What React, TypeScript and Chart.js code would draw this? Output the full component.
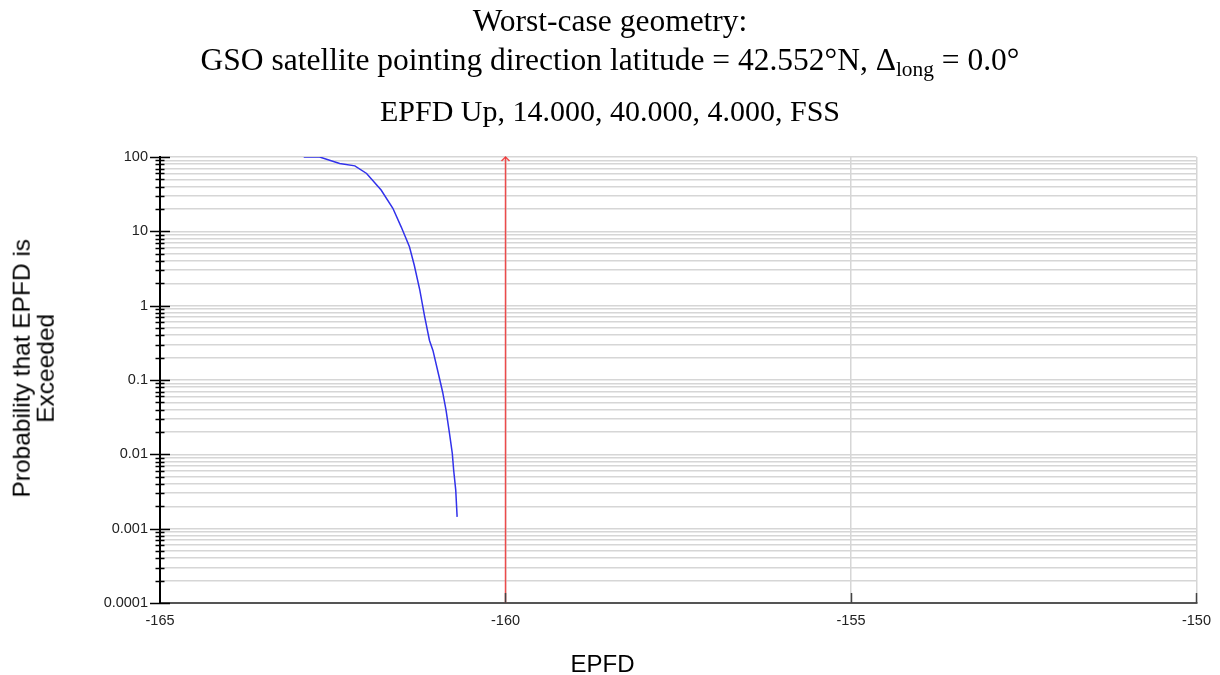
import React, { useEffect, useRef } from "react";
import { Chart, registerables } from "chart.js";

Chart.register(...registerables);

// ---- data ----
const epfdValues: number[] = [
  -162.92, -162.69, -162.4, -162.18, -162.01, -161.8, -161.63, -161.51, -161.39,
  -161.32, -161.24, -161.17, -161.1, -161.05, -160.95, -160.91, -160.86, -160.81,
  -160.77, -160.75, -160.72, -160.7,
];
const probValues: number[] = [
  100, 100, 82, 76, 60, 36, 20.4, 11.5, 6.2, 3.5, 1.62, 0.71, 0.34, 0.25, 0.1,
  0.069, 0.039, 0.019, 0.0103, 0.0061, 0.0033, 0.00144,
];
const limitEpfd: number[] = [-160, -160];
const limitProb: number[] = [0.0001, 100];
const xTickValues: number[] = [-165, -160, -155, -150];
const yDecades: number[] = [0.0001, 0.001, 0.01, 0.1, 1, 10, 100];
const yDecadeLabels: string[] = ["0.0001", "0.001", "0.01", "0.1", "1", "10", "100"];

const titleLine1 = "Worst-case geometry:";
const titleLine2a = "GSO satellite pointing direction latitude = 42.552°N, Δ";
const titleLine2sub = "long";
const titleLine2b = " = 0.0°";
const titleLine3 = "EPFD Up, 14.000, 40.000, 4.000, FSS";
const yTitleLines = ["Probability that EPFD is", "Exceeded"];
const xTitle = "EPFD";

const isDecade = (v: number) =>
  Math.abs(Math.log10(v) - Math.round(Math.log10(v))) < 1e-6;

const tickPlugin = {
  id: "customTicks",
  afterDraw(chart: any) {
    const { ctx, chartArea, scales } = chart;
    const y = scales.y;
    const x = scales.x;
    ctx.save();
    // y-axis ticks crossing the axis
    ctx.strokeStyle = "#000";
    ctx.lineWidth = 1.5;
    y.ticks.forEach((t: any) => {
      const py = Math.round(y.getPixelForValue(t.value)) + 0.5;
      const len = isDecade(t.value) ? 10 : 4.5;
      ctx.beginPath();
      ctx.moveTo(chartArea.left - len, py);
      ctx.lineTo(chartArea.left + len, py);
      ctx.stroke();
    });
    // x-axis ticks pointing up
    ctx.strokeStyle = "#444";
    ctx.lineWidth = 1.5;
    x.ticks.forEach((t: any) => {
      if (t.value <= x.min) return;
      const px = Math.round(x.getPixelForValue(t.value)) + 0.5;
      ctx.beginPath();
      ctx.moveTo(px, chartArea.bottom);
      ctx.lineTo(px, chartArea.bottom - 10);
      ctx.stroke();
    });
    // arrow head on limit line
    const ax = x.getPixelForValue(limitEpfd[1]);
    const ay = y.getPixelForValue(limitProb[1]);
    ctx.strokeStyle = "rgba(240,50,50,0.85)";
    ctx.lineWidth = 1.5;
    ctx.beginPath();
    ctx.moveTo(ax - 4, ay + 4);
    ctx.lineTo(ax, ay);
    ctx.lineTo(ax + 4, ay + 4);
    ctx.stroke();
    ctx.restore();
  },
};

function ChartCanvas() {
  const ref = useRef<HTMLCanvasElement | null>(null);
  useEffect(() => {
    if (!ref.current) return;
    const tickFont = { family: "'Liberation Sans', Arial, sans-serif", size: 14.5 };
    const chart = new Chart(ref.current, {
      type: "line",
      data: {
        datasets: [
          {
            data: epfdValues.map((v, i) => ({ x: v, y: probValues[i] })),
            borderColor: "rgb(50,50,235)",
            borderWidth: 1.5,
            pointRadius: 0,
            tension: 0,
            fill: false,
          },
          {
            data: limitEpfd.map((v, i) => ({ x: v, y: limitProb[i] })),
            borderColor: "rgba(240,50,50,0.85)",
            borderWidth: 1.5,
            pointRadius: 0,
            fill: false,
          },
        ],
      },
      options: {
        animation: false,
        responsive: false,
        maintainAspectRatio: false,
        layout: { padding: { top: 157, right: 23, left: 0, bottom: 0 } },
        plugins: {
          legend: { display: false },
          title: { display: false },
          tooltip: { enabled: false },
        },
        scales: {
          x: {
            type: "linear",
            min: -165,
            max: -150,
            afterBuildTicks: (s: any) => {
              s.ticks = xTickValues.map((v) => ({ value: v }));
            },
            afterFit: (s: any) => {
              s.height = 72;
            },
            ticks: {
              font: tickFont,
              color: "#222",
              padding: 9,
              maxRotation: 0,
              autoSkip: false,
              callback: (v: any) => String(v),
            },
            grid: { color: "#d6d6d6", lineWidth: 1.5, drawTicks: false },
            border: { color: "#555", width: 2 },
          },
          y: {
            type: "logarithmic",
            min: 0.0001,
            max: 100,
            afterBuildTicks: (s: any) => {
              const ticks: any[] = [];
              for (let e = -4; e <= 2; e++) {
                for (let m = 1; m <= 9; m++) {
                  if (e === 2 && m > 1) break;
                  ticks.push({ value: m * Math.pow(10, e) });
                }
              }
              s.ticks = ticks;
            },
            afterFit: (s: any) => {
              s.width = 160;
            },
            ticks: {
              font: tickFont,
              color: "#222",
              padding: 12,
              autoSkip: false,
              callback: (v: any) => {
                const n = Number(v);
                if (!isDecade(n)) return "";
                const idx = yDecades.findIndex((d) => Math.abs(d - n) / d < 1e-6);
                return idx >= 0 ? yDecadeLabels[idx] : "";
              },
            },
            grid: { color: "#d6d6d6", lineWidth: 1.5, drawTicks: false },
            border: { color: "#000", width: 2 },
          },
        },
      },
      plugins: [tickPlugin],
    } as any);
    return () => chart.destroy();
  }, []);
  return (
    <canvas
      ref={ref}
      width={1220}
      height={675}
      style={{ display: "block", width: 1220, height: 675 }}
    />
  );
}

export default function App() {
  const serif = "'Liberation Serif', 'Times New Roman', serif";
  const sans = "'Liberation Sans', Arial, sans-serif";
  return (
    <div
      style={{
        position: "absolute",
        left: 0,
        top: 0,
        width: 1220,
        height: 675,
        background: "#fff",
        overflow: "hidden",
      }}
    >
      <ChartCanvas />
      <div
        style={{
          position: "absolute",
          left: 0,
          width: 1220,
          top: 5.3,
          textAlign: "center",
          fontFamily: serif,
          fontSize: 31.5,
          lineHeight: "31.5px",
          color: "#000",
          whiteSpace: "nowrap",
        }}
      >
        {titleLine1}
      </div>
      <div
        style={{
          position: "absolute",
          left: 0,
          width: 1220,
          top: 43.6,
          textAlign: "center",
          fontFamily: serif,
          fontSize: 31.5,
          lineHeight: "31.5px",
          color: "#000",
          whiteSpace: "nowrap",
        }}
      >
        {titleLine2a}
        <span
          style={{
            fontSize: "0.68em",
            verticalAlign: "-0.28em",
            lineHeight: 0,
          }}
        >
          {titleLine2sub}
        </span>
        {titleLine2b}
      </div>
      <div
        style={{
          position: "absolute",
          left: 0,
          width: 1220,
          top: 96,
          textAlign: "center",
          fontFamily: serif,
          fontSize: 30,
          lineHeight: "30px",
          color: "#000",
          whiteSpace: "nowrap",
        }}
      >
        {titleLine3}
      </div>
      <div
        style={{
          position: "absolute",
          left: 34.4 - 200,
          top: 368 - 24.3,
          width: 400,
          height: 48.6,
          transform: "rotate(-90deg)",
          transformOrigin: "50% 50%",
          textAlign: "center",
          fontFamily: sans,
          fontSize: 24.5,
          lineHeight: "24.3px",
          color: "#000",
          whiteSpace: "nowrap",
        }}
      >
        {yTitleLines.map((l, i) => (
          <div key={i}>{l}</div>
        ))}
      </div>
      <div
        style={{
          position: "absolute",
          left: 602.5 - 100,
          top: 652.4,
          width: 200,
          textAlign: "center",
          fontFamily: sans,
          fontSize: 24,
          lineHeight: "24px",
          color: "#000",
          whiteSpace: "nowrap",
        }}
      >
        {xTitle}
      </div>
    </div>
  );
}
